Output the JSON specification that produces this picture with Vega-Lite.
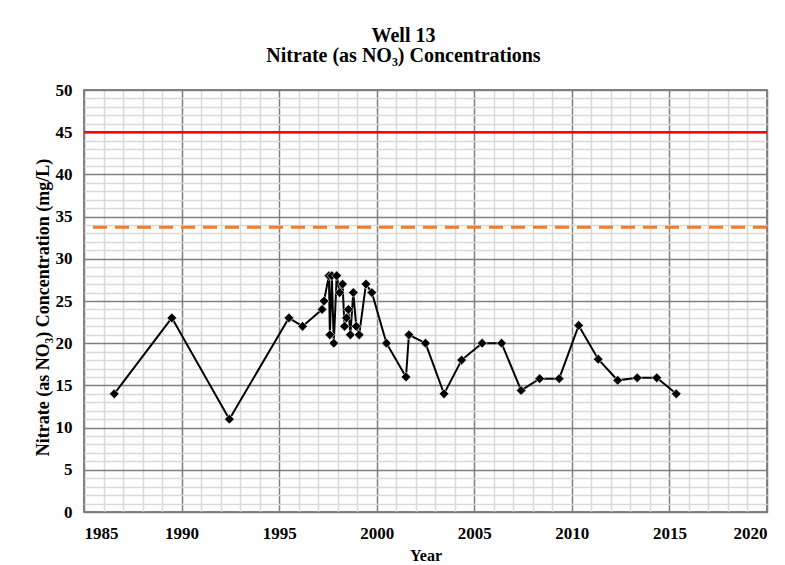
{
  "$schema": "https://vega.github.io/schema/vega-lite/v6.json",
  "width": 683,
  "height": 422,
  "autosize": {"type": "none"},
  "padding": {"left": 84, "top": 90, "right": 18, "bottom": 53},
  "background": "white",
  "title": {
    "text": ["Well 13", "Nitrate (as NO₃) Concentrations"],
    "font": "Liberation Serif",
    "fontSize": 20,
    "fontWeight": "bold",
    "color": "#000000",
    "anchor": "middle",
    "dx": -22,
    "lineHeight": 20,
    "offset": 15
  },
  "config": {
    "view": {"stroke": "#595959", "strokeWidth": 1.5},
    "axis": {
      "labelFont": "Liberation Serif",
      "labelFontSize": 17,
      "labelFontWeight": "bold",
      "labelColor": "#000000",
      "labelOverlap": false,
      "titleFont": "Liberation Serif",
      "titleFontSize": 16,
      "titleFontWeight": "bold",
      "titleColor": "#000000",
      "ticks": false,
      "domain": false
    }
  },
  "layer": [
    {
      "data": {"values": [
        {"year": 1986.55, "nitrate": 14},
        {"year": 1989.5, "nitrate": 23},
        {"year": 1992.45, "nitrate": 11},
        {"year": 1995.5, "nitrate": 23},
        {"year": 1996.2, "nitrate": 22},
        {"year": 1997.2, "nitrate": 24},
        {"year": 1997.3, "nitrate": 25},
        {"year": 1997.55, "nitrate": 28},
        {"year": 1997.6, "nitrate": 21},
        {"year": 1997.7, "nitrate": 28},
        {"year": 1997.8, "nitrate": 20},
        {"year": 1997.95, "nitrate": 28},
        {"year": 1998.1, "nitrate": 26},
        {"year": 1998.25, "nitrate": 27},
        {"year": 1998.35, "nitrate": 22},
        {"year": 1998.45, "nitrate": 23},
        {"year": 1998.55, "nitrate": 24},
        {"year": 1998.65, "nitrate": 21},
        {"year": 1998.8, "nitrate": 26},
        {"year": 1998.95, "nitrate": 22},
        {"year": 1999.1, "nitrate": 21},
        {"year": 1999.45, "nitrate": 27},
        {"year": 1999.75, "nitrate": 26},
        {"year": 2000.5, "nitrate": 20},
        {"year": 2001.5, "nitrate": 16},
        {"year": 2001.65, "nitrate": 21},
        {"year": 2002.5, "nitrate": 20},
        {"year": 2003.45, "nitrate": 14},
        {"year": 2004.35, "nitrate": 18},
        {"year": 2005.4, "nitrate": 20},
        {"year": 2006.4, "nitrate": 20},
        {"year": 2007.4, "nitrate": 14.4},
        {"year": 2008.35, "nitrate": 15.8},
        {"year": 2009.35, "nitrate": 15.8},
        {"year": 2010.35, "nitrate": 22.1},
        {"year": 2011.35, "nitrate": 18.1},
        {"year": 2012.35, "nitrate": 15.6},
        {"year": 2013.35, "nitrate": 15.9},
        {"year": 2014.35, "nitrate": 15.9},
        {"year": 2015.35, "nitrate": 14}
      ]},
      "mark": {"type": "line", "color": "#000000", "strokeWidth": 2, "point": {"shape": "diamond", "size": 95, "filled": true, "color": "#000000", "stroke": "#ffffff", "strokeWidth": 0.6}},
      "encoding": {
        "x": {
          "field": "year", "type": "quantitative",
          "scale": {"domain": [1985, 2020], "nice": false, "zero": false},
          "axis": {
            "title": "Year",
            "titlePadding": 6,
            "labelPadding": 13,
            "values": [1985,1986,1987,1988,1989,1990,1991,1992,1993,1994,1995,1996,1997,1998,1999,2000,2001,2002,2003,2004,2005,2006,2007,2008,2009,2010,2011,2012,2013,2014,2015,2016,2017,2018,2019,2020],
            "format": "d",
            "labelExpr": "datum.value % 5 === 0 ? datum.label : ''",
            "grid": true,
            "gridColor": {"condition": {"test": "datum.value % 5 === 0", "value": "#7f7f7f"}, "value": "#d9d9d9"},
            "gridWidth": 1.5,
            "gridOpacity": 1
          }
        },
        "y": {
          "field": "nitrate", "type": "quantitative",
          "scale": {"domain": [0, 50], "nice": false},
          "axis": {
            "title": "Nitrate (as NO₃)  Concentration (mg/L)",
            "titleFontSize": 18,
            "titlePadding": 3,
            "titleY": 217,
            "labelPadding": 12,
            "values": [0,1,2,3,4,5,6,7,8,9,10,11,12,13,14,15,16,17,18,19,20,21,22,23,24,25,26,27,28,29,30,31,32,33,34,35,36,37,38,39,40,41,42,43,44,45,46,47,48,49,50],
            "labelExpr": "datum.value % 5 === 0 ? datum.label : ''",
            "grid": true,
            "gridColor": {"condition": {"test": "datum.value % 5 === 0", "value": "#7f7f7f"}, "value": "#d9d9d9"},
            "gridWidth": 1.5,
            "gridOpacity": 1
          }
        }
      }
    },
    {
      "data": {"values": [{"limit": 45, "kind": "MCL"}]},
      "mark": {"type": "rule", "color": "#ff0000", "strokeWidth": 2.5},
      "encoding": {"y": {
        "field": "limit", "type": "quantitative",
        "axis": {
          "title": "Nitrate (as NO₃)  Concentration (mg/L)",
          "titleFontSize": 18,
          "titlePadding": 3,
          "titleY": 217,
          "labelPadding": 12,
          "values": [0,1,2,3,4,5,6,7,8,9,10,11,12,13,14,15,16,17,18,19,20,21,22,23,24,25,26,27,28,29,30,31,32,33,34,35,36,37,38,39,40,41,42,43,44,45,46,47,48,49,50],
          "labelExpr": "datum.value % 5 === 0 ? datum.label : ''",
          "grid": true,
          "gridColor": {"condition": {"test": "datum.value % 5 === 0", "value": "#7f7f7f"}, "value": "#d9d9d9"},
          "gridWidth": 1.5,
          "gridOpacity": 1
        }
      }}
    },
    {
      "data": {"values": [{"limit": 33.75, "kind": "75% MCL"}]},
      "mark": {"type": "rule", "color": "#ed7d31", "strokeWidth": 3, "strokeDash": [14, 8]},
      "encoding": {"y": {
        "field": "limit", "type": "quantitative",
        "axis": {
          "title": "Nitrate (as NO₃)  Concentration (mg/L)",
          "titleFontSize": 18,
          "titlePadding": 3,
          "titleY": 217,
          "labelPadding": 12,
          "values": [0,1,2,3,4,5,6,7,8,9,10,11,12,13,14,15,16,17,18,19,20,21,22,23,24,25,26,27,28,29,30,31,32,33,34,35,36,37,38,39,40,41,42,43,44,45,46,47,48,49,50],
          "labelExpr": "datum.value % 5 === 0 ? datum.label : ''",
          "grid": true,
          "gridColor": {"condition": {"test": "datum.value % 5 === 0", "value": "#7f7f7f"}, "value": "#d9d9d9"},
          "gridWidth": 1.5,
          "gridOpacity": 1
        }
      }}
    }
  ]
}
